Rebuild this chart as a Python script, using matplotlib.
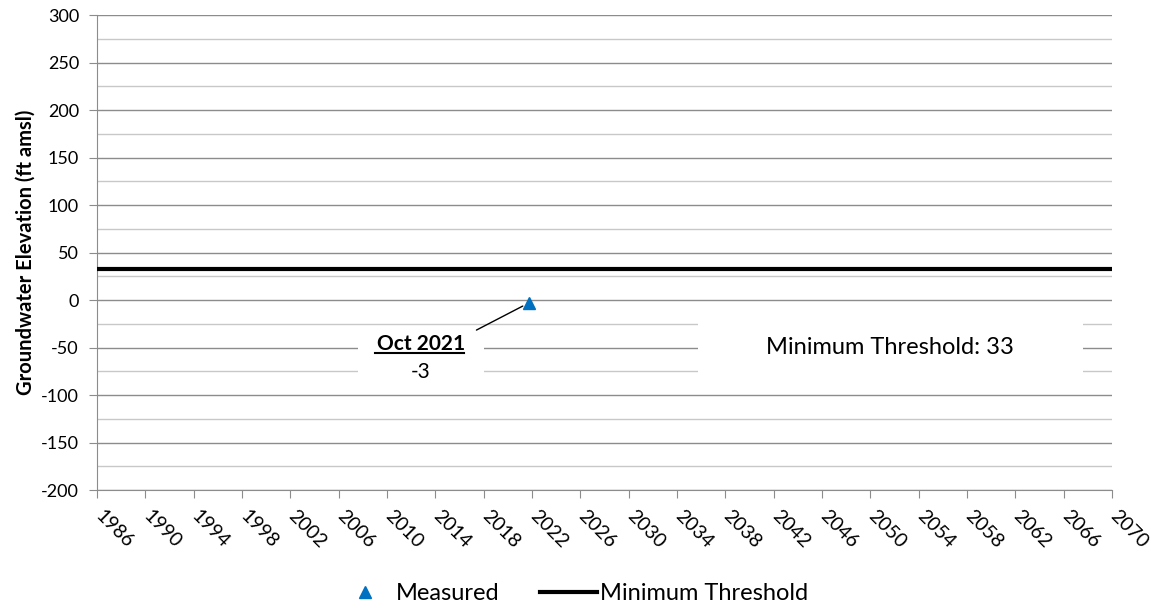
import matplotlib
matplotlib.use('Agg')
import matplotlib.pyplot as plt
import matplotlib.transforms as mtransforms
import numpy as np

plt.rcParams['font.family'] = ['Lato', 'DejaVu Sans']
plt.rcParams['axes.unicode_minus'] = False

# data
measured_dates = [2021.75]   # Oct 2021
measured_values = [-3]
threshold = 33
x_ticks = list(range(1986, 2071, 4))
y_ticks = list(range(-200, 301, 50))

fig = plt.figure(figsize=(11.51, 6.10), dpi=100)
ax = fig.add_axes([0.0843, 0.1967, 0.966 - 0.0843, 0.9754 - 0.1967])

ax.set_xlim(1986, 2070)
ax.set_ylim(-200, 300)
ax.set_yticks(y_ticks)
ax.set_yticks(np.arange(-175, 300, 50), minor=True)
ax.set_xticks(x_ticks)
ax.grid(axis='y', which='major', color='#8c8c8c', lw=1)
ax.grid(axis='y', which='minor', color='#c8c8c8', lw=1)
ax.set_axisbelow(True)
for s in ['top', 'right']:
    ax.spines[s].set_visible(False)
ax.spines['left'].set_color('#8c8c8c')
ax.spines['bottom'].set_color('#8c8c8c')
ax.tick_params(axis='y', which='major', length=6, color='#8c8c8c', labelsize=13, pad=7)
ax.tick_params(axis='y', which='minor', length=0)
ax.tick_params(axis='x', length=6, color='#8c8c8c', labelsize=14, pad=4)
ax.set_xticklabels([str(t) for t in x_ticks], rotation=-45, ha='left', va='top',
                   rotation_mode='anchor')
shift = mtransforms.ScaledTranslation(7 / 100, -3 / 100, fig.dpi_scale_trans)
for lbl in ax.get_xticklabels():
    lbl.set_transform(lbl.get_transform() + shift)
ax.set_ylabel('Groundwater Elevation (ft amsl)', fontsize=14.5, fontweight='bold', labelpad=4)

ax.axhline(threshold, color='black', lw=3, label='Minimum Threshold', zorder=3)
ax.plot(measured_dates, measured_values, ls='none', marker='^', ms=9,
        color='#0070c0', label='Measured', zorder=4)

# callout for the measured point
ax.add_patch(plt.Rectangle((2007.6, -80), 10.4, 52, fc='white', ec='none', zorder=2.5))
ax.annotate('', xy=(measured_dates[0], measured_values[0]), xytext=(2017.2, -33),
            arrowprops=dict(arrowstyle='-', color='black', lw=1, shrinkB=5))
ax.text(2012.8, -46, 'Oct 2021', fontsize=15, fontweight='bold', ha='center', va='center', zorder=5)
ax.plot([2009.0, 2016.4], [-56, -56], color='black', lw=1.5, zorder=6)
ax.text(2012.8, -76, '-3', fontsize=15, ha='center', va='center', zorder=5)

# threshold label
ax.add_patch(plt.Rectangle((2035.75, -79), 31.85, 56, fc='white', ec='none', zorder=2.5))
ax.text(2051.6, -50, 'Minimum Threshold: {}'.format(threshold), fontsize=17,
        ha='center', va='center', zorder=5)

handles, labels = ax.get_legend_handles_labels()
fig.legend(handles[::-1], labels[::-1], loc='center', bbox_to_anchor=(0.497, 16 / 610),
           ncol=2, frameon=False, fontsize=17, handlelength=2.4, columnspacing=1.7,
           handletextpad=0.13)

fig.savefig('out.png', dpi=100)
